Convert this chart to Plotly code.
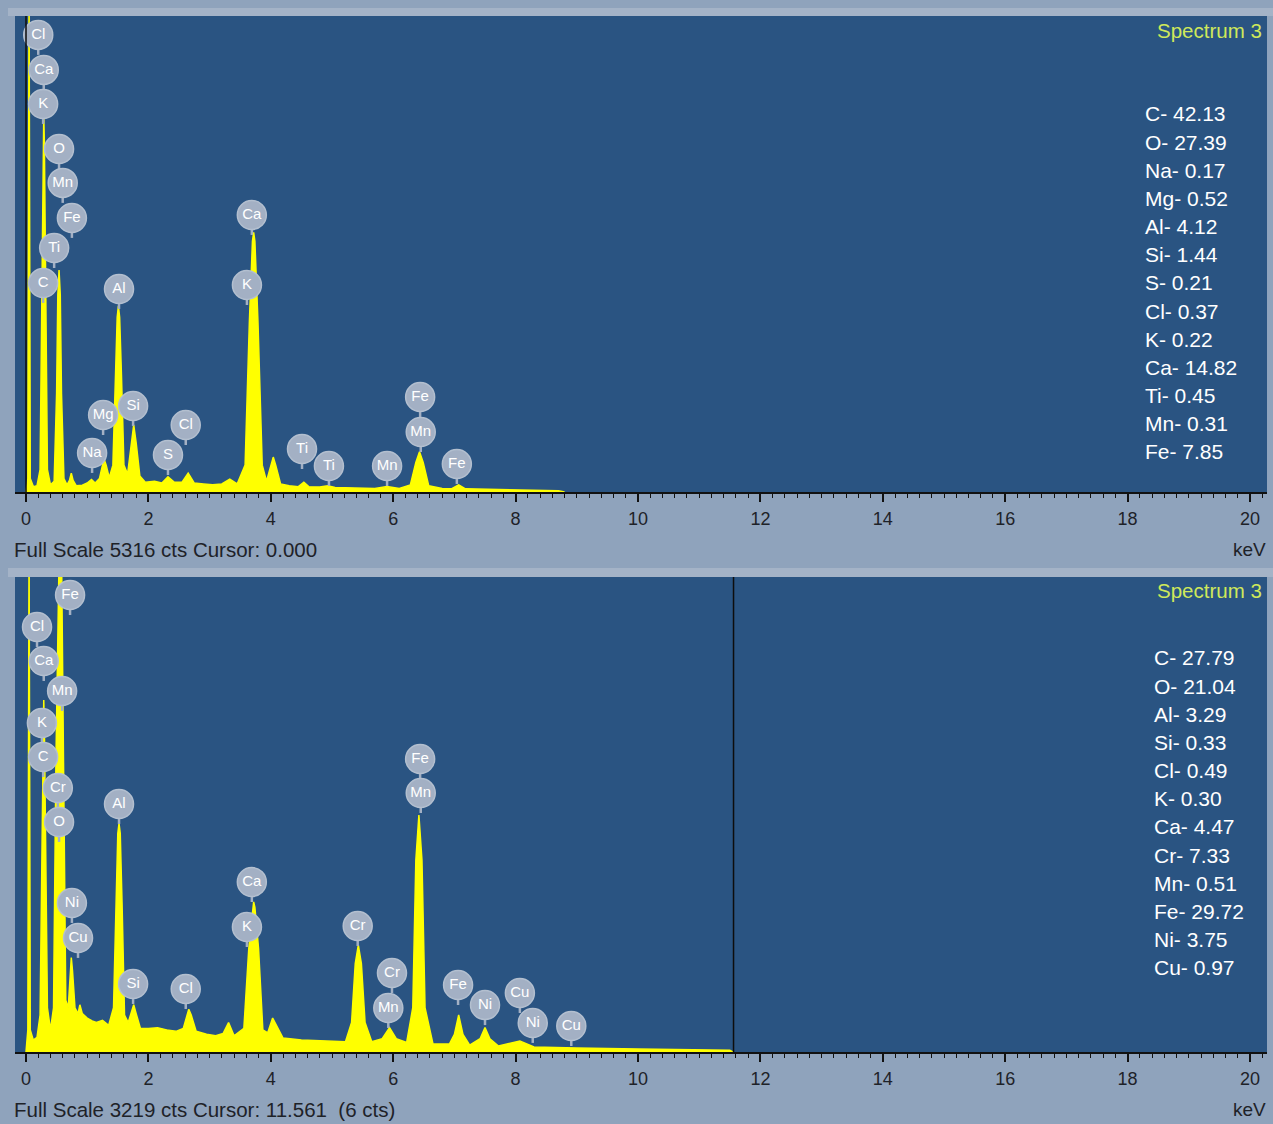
import plotly.graph_objects as go

W, H = 1273, 1124

# ---------------- data ----------------
top_full_scale = 5316
bot_full_scale = 3219
top_cursor = 0.000
bot_cursor = 11.561

top_kev = [0.00, 0.03, 0.05, 0.07, 0.12, 0.18, 0.23, 0.26, 0.28, 0.29,
           0.30, 0.32, 0.35, 0.40, 0.46, 0.50, 0.52, 0.54, 0.56, 0.58,
           0.62, 0.67, 0.71, 0.74, 0.77, 0.82, 0.92, 1.00, 1.07, 1.13,
           1.20, 1.25, 1.28, 1.31, 1.36, 1.42, 1.46, 1.49, 1.51, 1.53,
           1.56, 1.60, 1.66, 1.72, 1.76, 1.80, 1.86, 1.95, 2.10, 2.22,
           2.32, 2.42, 2.55, 2.65, 2.75, 2.90, 3.05, 3.20, 3.33, 3.45,
           3.58, 3.65, 3.70, 3.72, 3.74, 3.79, 3.86, 3.93, 4.00, 4.04,
           4.08, 4.16, 4.30, 4.45, 4.54, 4.62, 4.80, 4.93, 5.05, 5.40,
           5.70, 5.90, 6.10, 6.28, 6.37, 6.43, 6.49, 6.58, 6.80, 6.95,
           7.07, 7.18, 7.50, 7.90, 8.30, 8.70, 8.80]
top_cts = [0, 150, 5600, 150, 60, 70, 250, 2200, 3900, 4200,
           3900, 2200, 250, 80, 120, 1100, 2200, 2480, 2200, 1100,
           150, 80, 130, 210, 130, 70, 75, 100, 140, 100,
           150, 300, 360, 300, 160, 300, 1300, 1950, 2080, 1950,
           1300, 300, 200, 550, 750, 550, 180, 110, 120, 100,
           170, 110, 110, 210, 100, 90, 80, 90, 145, 90,
           300, 1900, 2800, 2900, 2800, 1900, 300, 120, 300, 390,
           300, 90, 70, 60, 110, 60, 55, 70, 50, 45,
           40, 60, 40, 80, 330, 450, 330, 70, 40, 35,
           80, 35, 30, 25, 20, 15, 0]

bot_kev = [0.00, 0.03, 0.05, 0.07, 0.12, 0.18, 0.23, 0.26, 0.28, 0.29,
           0.30, 0.32, 0.35, 0.40, 0.45, 0.49, 0.52, 0.55, 0.58, 0.61,
           0.65, 0.69, 0.72, 0.74, 0.76, 0.80, 0.85, 0.88, 0.92, 1.00,
           1.08, 1.15, 1.25, 1.35, 1.43, 1.47, 1.50, 1.52, 1.54, 1.57,
           1.61, 1.67, 1.72, 1.76, 1.80, 1.87, 2.00, 2.15, 2.30, 2.45,
           2.57, 2.63, 2.66, 2.70, 2.78, 2.95, 3.10, 3.22, 3.31, 3.40,
           3.56, 3.64, 3.70, 3.72, 3.74, 3.80, 3.87, 3.95, 4.03, 4.10,
           4.20, 4.50, 5.00, 5.22, 5.32, 5.38, 5.43, 5.48, 5.54, 5.65,
           5.82, 5.94, 6.05, 6.22, 6.32, 6.37, 6.42, 6.47, 6.52, 6.65,
           6.92, 7.00, 7.07, 7.14, 7.25, 7.42, 7.50, 7.58, 7.72, 8.07,
           8.30, 8.60, 9.00, 10.00, 11.00, 11.50, 11.55]
bot_cts = [0, 150, 3500, 150, 80, 100, 250, 1300, 2200, 2385,
           2200, 1300, 300, 150, 300, 2000, 3400, 3600, 3400, 2000,
           350, 300, 550, 640, 550, 300, 260, 320, 260, 230,
           210, 200, 215, 180, 300, 1000, 1480, 1550, 1480, 1000,
           250, 200, 260, 320, 260, 160, 160, 165, 150, 140,
           160, 260, 290, 250, 140, 120, 110, 125, 200, 110,
           160, 700, 980, 1017, 980, 700, 150, 130, 230, 170,
           95, 82, 75, 70, 200, 600, 725, 600, 200, 70,
           90, 165, 90, 65, 300, 1300, 1606, 1300, 300, 55,
           55, 120, 251, 120, 47, 90, 165, 90, 40, 75,
           34, 33, 27, 20, 14, 12, 0]

# peak-identification bubbles (element, keV, counts)
top_lbl = ["Cl", "Ca", "K", "O", "Mn", "Fe", "Ti", "C", "Al", "Ca", "K",
           "Mg", "Si", "Na", "S", "Cl", "Ti", "Ti", "Mn", "Fe", "Mn", "Fe"]
top_lbl_kev = [0.20, 0.29, 0.28, 0.54, 0.60, 0.75, 0.46, 0.28, 1.52, 3.69, 3.61,
               1.26, 1.75, 1.08, 2.32, 2.61, 4.51, 4.95, 5.90, 6.44, 6.45, 7.04]
top_lbl_cts = [5105, 4714, 4334, 3831, 3452, 3061, 2725, 2335, 2268, 3094, 2312,
               860, 961, 436, 413, 748, 480, 290, 290, 1061, 670, 313]

bot_lbl = ["Fe", "Cl", "Ca", "Mn", "K", "C", "Cr", "O", "Al", "Ni", "Cu",
           "Ca", "K", "Cr", "Si", "Cl", "Cr", "Mn", "Fe", "Ni", "Cu", "Ni",
           "Cu", "Fe", "Mn"]
bot_lbl_kev = [0.72, 0.18, 0.29, 0.59, 0.26, 0.28, 0.52, 0.54, 1.52, 0.75, 0.85,
               3.69, 3.61, 5.42, 1.75, 2.61, 5.98, 5.92, 7.06, 7.50, 8.07, 8.28,
               8.91, 6.44, 6.45]
bot_lbl_cts = [3097, 2880, 2650, 2447, 2230, 1999, 1789, 1559, 1681, 1010, 773,
               1152, 847, 854, 461, 427, 535, 298, 454, 318, 400, 197,
               176, 1986, 1755]

top_comp_el = ["C", "O", "Na", "Mg", "Al", "Si", "S", "Cl", "K", "Ca", "Ti", "Mn", "Fe"]
top_comp_val = ["42.13", "27.39", "0.17", "0.52", "4.12", "1.44", "0.21", "0.37",
                "0.22", "14.82", "0.45", "0.31", "7.85"]
bot_comp_el = ["C", "O", "Al", "Si", "Cl", "K", "Ca", "Cr", "Mn", "Fe", "Ni", "Cu"]
bot_comp_val = ["27.79", "21.04", "3.29", "0.33", "0.49", "0.30", "4.47", "7.33",
                "0.51", "29.72", "3.75", "0.97"]

tick_vals = [0, 2, 4, 6, 8, 10, 12, 14, 16, 18, 20]
spectrum_name = "Spectrum 3"

# ---------------- styling / geometry ----------------
FONT = "Arial, Liberation Sans, sans-serif"
PANEL_BLUE = "#2a5482"
PAPER = "#8fa3bc"
STRIP = "#a4b3c7"
YELLOW = "#ffff00"
BUBBLE = "#a3b0c4"
TEXT_DARK = "#1e2228"

px_left, px_right = 15, 1267
top_py0, top_py1 = 16, 492
bot_py0, bot_py1 = 577, 1052
kev_per_px = 1 / 61.2
x_range = [0 - (26 - px_left) * kev_per_px, 20 + (px_right - 1250) * kev_per_px]


def py(p):
    return 1 - p / H


def px(p):
    return p / W


fig = go.Figure()

panels = [
    dict(xa="x", ya="y", kev=top_kev, cts=top_cts, lk=top_lbl_kev, lc=top_lbl_cts,
         lt=top_lbl, fs=top_full_scale, h=top_py1 - top_py0),
    dict(xa="x2", ya="y2", kev=bot_kev, cts=bot_cts, lk=bot_lbl_kev, lc=bot_lbl_cts,
         lt=bot_lbl, fs=bot_full_scale, h=bot_py1 - bot_py0),
]

for p in panels:
    fig.add_trace(go.Scatter(x=p["kev"], y=p["cts"], mode="lines", fill="tozeroy",
                             line=dict(color=YELLOW, width=1.5), fillcolor=YELLOW,
                             xaxis=p["xa"], yaxis=p["ya"], hoverinfo="skip",
                             showlegend=False))
    cpp = p["fs"] / p["h"]
    sx, sy = [], []
    for k, c in zip(p["lk"], p["lc"]):
        sx += [k, k, None]
        sy += [c, c - 20 * cpp, None]
    fig.add_trace(go.Scatter(x=sx, y=sy, mode="lines", line=dict(color=BUBBLE, width=2.5),
                             xaxis=p["xa"], yaxis=p["ya"], hoverinfo="skip",
                             showlegend=False, cliponaxis=False))
    fig.add_trace(go.Scatter(x=p["lk"], y=p["lc"], mode="markers+text", text=p["lt"],
                             textposition="middle center",
                             textfont=dict(family=FONT, size=15, color="white"),
                             marker=dict(size=29, color=BUBBLE,
                                         line=dict(color="#b3bfcf", width=1.5)),
                             xaxis=p["xa"], yaxis=p["ya"], hoverinfo="skip",
                             showlegend=False, cliponaxis=False))

axis_common = dict(range=x_range, domain=[px(px_left), px(px_right)],
                   showgrid=False, zeroline=False, showline=True, linecolor="#111111",
                   linewidth=2, ticks="outside", ticklen=8, tickwidth=1.5,
                   tickcolor="#111111", tickvals=tick_vals,
                   tickfont=dict(family=FONT, size=18, color=TEXT_DARK),
                   ticklabelstandoff=1,
                   minor=dict(dtick=0.2, tick0=0, ticks="outside", ticklen=4,
                              tickwidth=1.2, tickcolor="#111111"),
                   fixedrange=True)
yaxis_common = dict(showgrid=False, zeroline=False, showticklabels=False,
                    showline=False, ticks="", fixedrange=True)

annotations = []
for (fs, cur, y_txt, suffix) in [(top_full_scale, top_cursor, 549, ""),
                                 (bot_full_scale, bot_cursor, 1109, "  (6 cts)")]:
    annotations.append(dict(xref="paper", yref="paper", x=px(12), y=py(y_txt),
                            xanchor="left", yanchor="middle", showarrow=False,
                            text=f"Full Scale {fs} cts Cursor: {cur:.3f}{suffix}",
                            font=dict(family=FONT, size=20.5, color=TEXT_DARK)))
    annotations.append(dict(xref="paper", yref="paper", x=px(1268), y=py(y_txt),
                            xanchor="right", yanchor="middle", showarrow=False,
                            text="keV", font=dict(family=FONT, size=19, color=TEXT_DARK)))

for y_txt in (31, 591):
    annotations.append(dict(xref="paper", yref="paper", x=px(1264), y=py(y_txt),
                            xanchor="right", yanchor="middle", showarrow=False,
                            text=spectrum_name,
                            font=dict(family=FONT, size=20.5, color="#cfe85a")))

for els, vals, x0, y0 in [(top_comp_el, top_comp_val, 1143, 114),
                          (bot_comp_el, bot_comp_val, 1152, 658)]:
    for i, (e, v) in enumerate(zip(els, vals)):
        annotations.append(dict(xref="paper", yref="paper", x=px(x0), y=py(y0 + i * 28.15),
                                xanchor="left", yanchor="middle", showarrow=False,
                                text=f"{e}- {v}",
                                font=dict(family=FONT, size=21, color="white")))

shapes = [
    # light frame strips around the panels
    dict(type="rect", xref="paper", yref="paper", x0=px(8), x1=px(1273),
         y0=py(top_py0), y1=py(8), fillcolor=STRIP, line=dict(width=0), layer="below"),
    dict(type="rect", xref="paper", yref="paper", x0=px(8), x1=px(1273),
         y0=py(bot_py0), y1=py(568), fillcolor=STRIP, line=dict(width=0), layer="below"),
    dict(type="rect", xref="paper", yref="paper", x0=px(px_left), x1=px(px_right),
         y0=py(top_py1), y1=py(top_py0), fillcolor=PANEL_BLUE, line=dict(width=0),
         layer="below"),
    dict(type="rect", xref="paper", yref="paper", x0=px(px_left), x1=px(px_right),
         y0=py(bot_py1), y1=py(bot_py0), fillcolor=PANEL_BLUE, line=dict(width=0),
         layer="below"),
    dict(type="line", xref="x", yref="y domain", x0=top_cursor, x1=top_cursor,
         y0=0, y1=1, line=dict(color="#0d0d0d", width=1.5)),
    dict(type="line", xref="x2", yref="y2 domain", x0=bot_cursor, x1=bot_cursor,
         y0=0, y1=1, line=dict(color="#0d0d0d", width=1.5)),
]

fig.update_layout(
    width=W, height=H, autosize=False,
    margin=dict(l=0, r=0, t=0, b=0, pad=0),
    paper_bgcolor=PAPER, plot_bgcolor=PANEL_BLUE,
    xaxis=dict(anchor="y", **axis_common),
    yaxis=dict(anchor="x", domain=[py(top_py1), py(top_py0)],
               range=[0, top_full_scale], **yaxis_common),
    xaxis2=dict(anchor="y2", **axis_common),
    yaxis2=dict(anchor="x2", domain=[py(bot_py1), py(bot_py0)],
                range=[0, bot_full_scale], **yaxis_common),
    annotations=annotations, shapes=shapes, showlegend=False,
)

fig.write_html("out.html",
               config={"displayModeBar": False},
               post_script="document.body.style.margin='0';"
                           "document.body.style.background='%s';" % PAPER)
